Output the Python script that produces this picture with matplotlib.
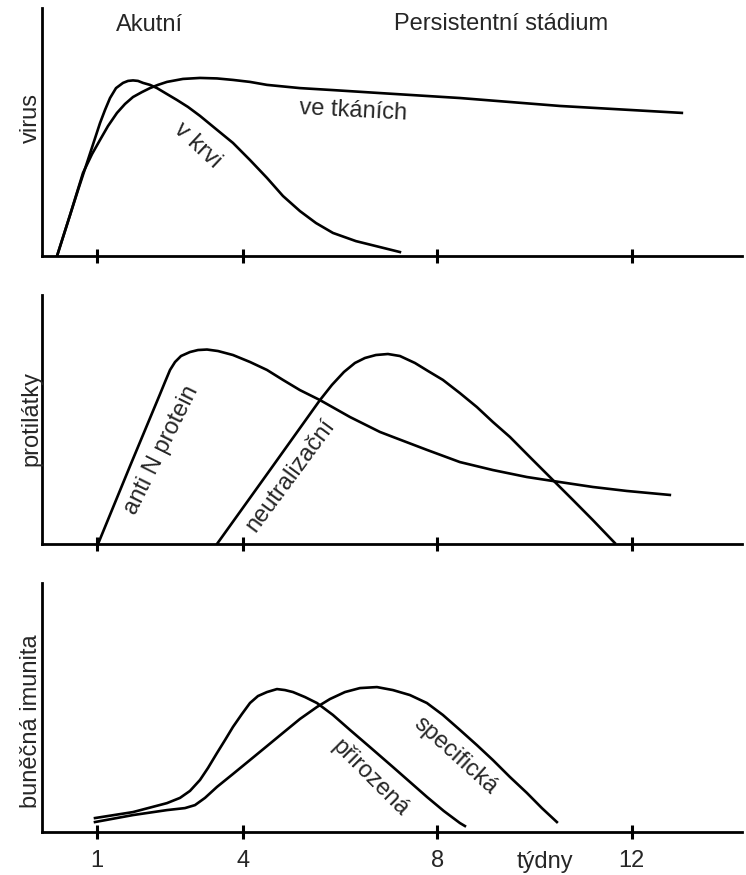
import matplotlib
matplotlib.use("Agg")
import matplotlib.pyplot as plt

plt.rcParams['font.family'] = ['Liberation Sans', 'DejaVu Sans']

# x v týdnech, y v relativních jednotkách (0-100)
krev_x = [0.184, 0.616, 1.068, 1.171, 1.274, 1.397, 1.541, 1.644, 1.747, 1.849, 1.952, 2.096, 2.240, 2.445,
          2.651, 2.877, 3.124, 3.453, 3.802, 4.152, 4.501, 4.830, 5.180, 5.509, 5.858, 6.331, 6.824, 7.235]
krev_y = [0.0, 26.6, 53.6, 58.9, 63.7, 67.7, 69.8, 70.6, 70.8, 70.6, 69.8, 69.0, 67.7, 65.3,
          62.9, 60.1, 56.5, 51.2, 45.6, 38.7, 31.5, 24.2, 18.1, 13.3, 9.3, 6.0, 3.6, 1.6]

tkan_x = [0.184, 0.451, 0.718, 0.904, 1.068, 1.232, 1.417, 1.582, 1.746, 1.931, 2.096, 2.260, 2.445,
          2.774, 3.124, 3.473, 3.802, 4.152, 4.501, 5.180, 5.858, 6.824, 8.469, 10.525, 13.033]
tkan_y = [0.0, 16.5, 33.5, 41.1, 46.8, 52.4, 57.7, 61.3, 64.1, 66.1, 67.7, 69.0, 70.2,
          71.4, 71.8, 71.6, 71.0, 70.2, 69.0, 67.7, 66.9, 65.7, 63.7, 60.5, 57.7]

antiN_x = [1.027, 1.685, 2.302, 2.405, 2.508, 2.611, 2.734, 2.918, 3.083, 3.268, 3.494, 3.802, 4.152, 4.501,
           4.830, 5.180, 5.591, 6.208, 6.824, 7.091, 7.790, 8.469, 9.147, 9.846, 10.381, 11.203, 11.902, 12.786]
antiN_y = [0.0, 31.3, 60.2, 65.1, 69.9, 73.1, 75.5, 77.1, 77.9, 78.1, 77.5, 75.9, 73.1, 69.9,
           65.9, 61.8, 57.8, 51.0, 45.0, 43.0, 37.8, 32.9, 29.7, 26.9, 25.3, 22.9, 21.3, 19.7]

neutr_x = [3.473, 4.563, 5.591, 5.838, 6.085, 6.310, 6.516, 6.742, 6.989, 7.235, 7.544, 7.811, 8.119,
           8.469, 8.818, 9.147, 9.497, 9.929, 10.381, 10.792, 11.203, 11.655]
neutr_y = [0.0, 29.7, 57.8, 63.9, 69.1, 72.7, 74.7, 75.9, 76.3, 75.5, 72.7, 69.5, 65.9,
           60.6, 55.0, 49.0, 43.0, 34.5, 25.7, 17.7, 9.6, 0.4]

priroz_x = [0.965, 1.746, 2.445, 2.713, 2.918, 3.124, 3.288, 3.473, 3.638, 3.802, 3.987, 4.152, 4.316, 4.501,
            4.707, 4.871, 5.036, 5.282, 5.529, 5.858, 6.208, 6.619, 7.091, 7.441, 7.790, 8.140, 8.469, 8.572]
priroz_y = [5.6, 8.0, 11.6, 13.7, 16.5, 20.9, 25.7, 31.7, 36.9, 42.2, 47.4, 51.8, 54.6, 56.2,
            57.4, 57.0, 56.2, 54.2, 51.8, 47.0, 41.0, 34.1, 26.1, 20.1, 14.1, 8.4, 3.6, 2.4]

spec_x = [0.965, 1.746, 2.445, 2.815, 3.021, 3.227, 3.473, 3.802, 4.152, 4.501, 4.830, 5.180, 5.529, 5.797,
          6.105, 6.413, 6.763, 7.091, 7.441, 7.790, 8.119, 8.469, 8.818, 9.147, 9.497, 9.846, 10.155, 10.463]
spec_y = [4.0, 6.8, 8.8, 9.6, 10.8, 13.7, 18.1, 23.3, 28.9, 34.5, 39.8, 45.4, 50.2, 53.4,
          56.2, 57.8, 58.2, 57.0, 55.0, 51.8, 47.0, 41.0, 34.9, 28.9, 22.1, 15.7, 9.6, 4.0]

tick_pos = [1, 4, 8, 12]
tick_labels = ['1', '4', '8', '12']

ylabels = ['virus', 'protilátky', 'buněčná imunita']

W, H = 746, 875
fig = plt.figure(figsize=(W / 100, H / 100), dpi=100)

# pozice os v pixelech (horní hrana, dolní hrana)
panels = [(8, 256), (295, 544), (583, 832)]
left_px, right_px = 42, 742
txt_col = '#262626'
lw = 1.9

axes = []
for top, bottom in panels:
    ax = fig.add_axes([left_px / W, 1 - bottom / H, (right_px - left_px) / W, (bottom - top) / H])
    ax.set_xlim(-0.125, 14.27)
    ax.set_ylim(0, 100)
    for s in ['top', 'right']:
        ax.spines[s].set_visible(False)
    for s in ['left', 'bottom']:
        ax.spines[s].set_linewidth(2.0)
    ax.set_yticks([])
    ax.set_xticks(tick_pos)
    ax.tick_params(axis='x', direction='inout', length=9.5, width=2.2, pad=8,
                   labelsize=17, labelcolor=txt_col)
    ax.set_xticklabels([])
    axes.append(ax)

ax1, ax2, ax3 = axes

ax1.plot(krev_x, krev_y, color='black', lw=lw, solid_joinstyle='round')
ax1.plot(tkan_x, tkan_y, color='black', lw=lw, solid_joinstyle='round')
ax1.text(2.075, 90.8, 'Akutní', fontsize=17, color=txt_col, ha='center', va='baseline')
ax1.text(9.318, 91.1, 'Persistentní stádium', fontsize=17, color=txt_col, ha='center', va='baseline')
ax1.text(6.269, 58.5, 've tkáních', fontsize=17, color=txt_col, ha='center', va='center',
         rotation=-3, rotation_mode='anchor')
ax1.text(3.062, 44.4, 'v krvi', fontsize=17, color=txt_col, ha='center', va='center',
         rotation=-43, rotation_mode='anchor')

ax2.plot(antiN_x, antiN_y, color='black', lw=lw, solid_joinstyle='round')
ax2.plot(neutr_x, neutr_y, color='black', lw=lw, solid_joinstyle='round')
ax2.text(2.343, 37.8, 'anti N protein', fontsize=17, color=txt_col, ha='center', va='center',
         rotation=63.5, rotation_mode='anchor')
ax2.text(4.995, 27.7, 'neutralizační', fontsize=17, color=txt_col, ha='center', va='center',
         rotation=53.5, rotation_mode='anchor')

ax3.plot(priroz_x, priroz_y, color='black', lw=lw, solid_joinstyle='round')
ax3.plot(spec_x, spec_y, color='black', lw=lw, solid_joinstyle='round')
ax3.text(6.619, 21.7, 'přirozená', fontsize=17, color=txt_col, ha='center', va='center',
         rotation=-45, rotation_mode='anchor')
ax3.text(8.387, 30.5, 'specifická', fontsize=17, color=txt_col, ha='center', va='center',
         rotation=-42, rotation_mode='anchor')
ax3.set_xticklabels(tick_labels)
ax3.text(10.214, -14.5, 'týdny', fontsize=17, color=txt_col, ha='center', va='baseline', clip_on=False)

# popisky os y
label_y_px = [118, 418, 721]
for lab, py in zip(ylabels, label_y_px):
    fig.text(31 / W, 1 - py / H, lab, fontsize=17, color=txt_col, rotation=90,
             ha='center', va='center')

fig.savefig('out.png', dpi=100, facecolor='white')
